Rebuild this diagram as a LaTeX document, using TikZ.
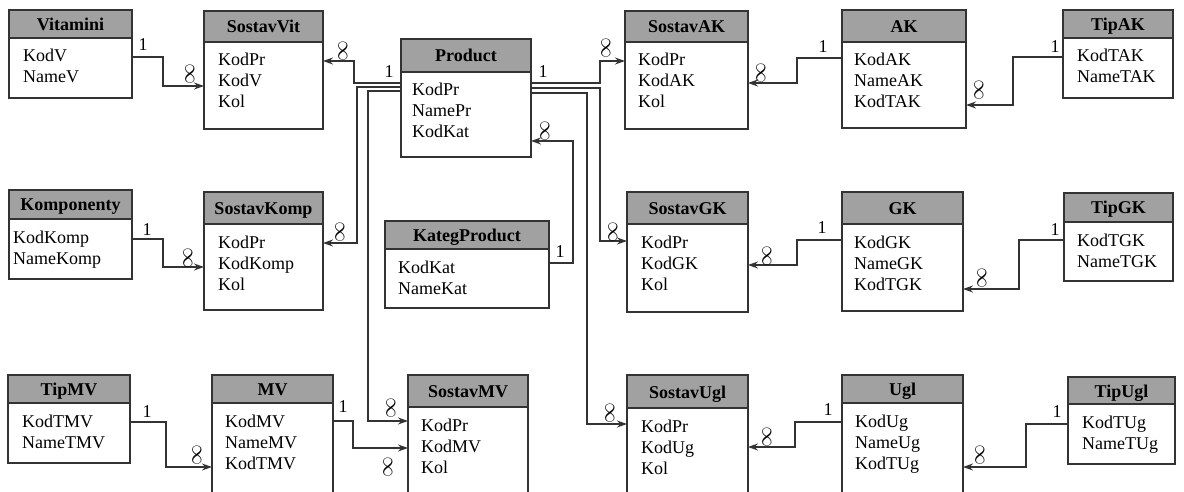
\documentclass[tikz,border=0pt]{standalone}
\usepackage{fontspec}
\setmainfont{Liberation Serif}
\usetikzlibrary{arrows.meta,fit,calc}
\tikzset{
 boxline/.style={draw=black!80, line width=1.4pt},
 hdr/.style={fill=black!37},
 conn/.style={draw=black!80, line width=1.3pt},
 arr/.style={conn, -{Stealth[length=10pt,width=7pt,inset=3.5pt]}},
 fieldtext/.style={anchor=base west, inner sep=0pt, font=\fontsize{18}{21}\selectfont},
 titletext/.style={anchor=base, inner sep=0pt, font=\fontsize{18}{21}\selectfont\bfseries},
 onelbl/.style={inner sep=0pt, font=\fontsize{18}{20}\selectfont},
 inflbl/.style={inner sep=0pt, rotate=90, scale=1.2, font=\fontsize{16}{16}\selectfont},
}
\newcommand\infsym{$\infty$}
% #1 id, #2 x1, #3 y1, #4 x2, #5 header bottom, #6 y2, #7 title, #8 pad, #9 fields
\newcommand\entity[9]{%
 \fill[hdr] (#2,#3) rectangle (#4,#5);
 \node[fit={(#2,#3) (#4,#6)}, inner sep=0pt, outer sep=0pt, boxline] (#1) {};
 \draw[boxline] (#2,#5) -- (#4,#5);
 \node[titletext] (#1-title) at ({(#2+#4)/2},{(#3+#5)/2+6.5}) {#7};
 \foreach \f [count=\i] in {#9} \node[fieldtext] (#1-\i) at ({#2+#8},{#5+24+(\i-1)*21}) {\f};
}
\begin{document}
\begin{tikzpicture}[x=1pt,y=-1pt]
\useasboundingbox (0,0) rectangle (1184,492);
\clip (0,0) rectangle (1184,492);
\fill[white] (0,0) rectangle (1184,492);

\entity{Vitamini}{9}{10}{132}{38}{98}{Vitamini}{14}{KodV,NameV}
\entity{SostavVit}{204}{11}{323}{42}{129}{SostavVit}{14}{KodPr,KodV,Kol}
\entity{Product}{401}{39}{531}{72}{157}{Product}{11}{KodPr,NamePr,KodKat}
\entity{SostavAK}{625}{11}{748}{42}{129}{SostavAK}{13}{KodPr,KodAK,Kol}
\entity{AK}{842}{10}{966}{42}{128}{AK}{12}{KodAK,NameAK,KodTAK}
\entity{TipAK}{1063}{10}{1173}{38}{98}{TipAK}{14}{KodTAK,NameTAK}
\entity{Komponenty}{9}{190}{132}{219}{279}{Komponenty}{4}{KodKomp,NameKomp}
\entity{SostavKomp}{204}{192}{323}{224}{310}{SostavKomp}{14}{KodPr,KodKomp,Kol}
\entity{KategProduct}{385}{221}{549}{249}{308}{KategProduct}{13}{KodKat,NameKat}
\entity{SostavGK}{627}{192}{748}{224}{312}{SostavGK}{14}{KodPr,KodGK,Kol}
\entity{GK}{842}{192}{963}{224}{311}{GK}{12}{KodGK,NameGK,KodTGK}
\entity{TipGK}{1064}{193}{1173}{222}{281}{TipGK}{13}{KodTGK,NameTGK}
\entity{TipMV}{8}{375}{130}{403}{463}{TipMV}{14}{KodTMV,NameTMV}
\entity{MV}{212}{375}{333}{403}{510}{MV}{13}{KodMV,NameMV,KodTMV}
\entity{SostavMV}{408}{375}{528}{407}{510}{SostavMV}{13}{KodPr,KodMV,Kol}
\entity{SostavUgl}{627}{375}{748}{408}{510}{SostavUgl}{14}{KodPr,KodUg,Kol}
\entity{Ugl}{842}{375}{963}{403}{510}{Ugl}{13}{KodUg,NameUg,KodTUg}
\entity{TipUgl}{1068}{377}{1175}{404}{464}{TipUgl}{14}{KodTUg,NameTUg}

% Vitamini -> SostavVit
\draw[arr] (Vitamini.east |- 0,57) -- (163,57) |- (SostavVit.west |- 0,86);
\node[onelbl] (o1) at (143,45) {1};
\node[inflbl] (i1) at (190,74) {\infsym};
% Product -> SostavVit
\draw[arr] (Product.west |- 0,83) -- (354,83) |- (SostavVit.east |- 0,61);
\node[onelbl] (o2) at (389,72) {1};
\node[inflbl] (i2) at (343,51) {\infsym};
% Product -> SostavKomp
\draw[arr] (Product.west |- 0,87) -- (357,87) |- (SostavKomp.east |- 0,243);
\node[inflbl] (i3) at (340,232) {\infsym};
% Product -> SostavMV
\draw[arr] (Product.west |- 0,91) -- (368,91) |- (SostavMV.west |- 0,421);
\node[inflbl] (i4) at (391,408) {\infsym};
% Product -> SostavAK
\draw[arr] (Product.east |- 0,83) -- (600,83) |- (SostavAK.west |- 0,61);
\node[onelbl] (o5) at (543,72) {1};
\node[inflbl] (i5) at (606,48) {\infsym};
% Product -> SostavGK
\draw[arr] (Product.east |- 0,88) -- (600,88) |- (SostavGK.west |- 0,241);
\node[inflbl] (i6) at (613,232) {\infsym};
% Product -> SostavUgl
\draw[arr] (Product.east |- 0,93) -- (587,93) |- (SostavUgl.west |- 0,424);
\node[inflbl] (i7) at (610,413) {\infsym};
% KategProduct -> Product
\draw[arr] (KategProduct.east |- 0,263) -- (573,263) |- (Product.east |- 0,141);
\node[onelbl] (o8) at (560,252) {1};
\node[inflbl] (i8) at (545,131) {\infsym};
% Komponenty -> SostavKomp
\draw[arr] (Komponenty.east |- 0,239) -- (163,239) |- (SostavKomp.west |- 0,267);
\node[onelbl] (o9) at (147,230) {1};
\node[inflbl] (i9) at (188,258) {\infsym};
% AK -> SostavAK
\draw[arr] (AK.west |- 0,58) -- (797,58) |- (SostavAK.east |- 0,83);
\node[onelbl] (o10) at (823,47) {1};
\node[inflbl] (i10) at (761,73) {\infsym};
% TipAK -> AK
\draw[arr] (TipAK.west |- 0,57) -- (1013,57) |- (AK.east |- 0,105);
\node[onelbl] (o11) at (1055,47) {1};
\node[inflbl] (i11) at (979,90) {\infsym};
% GK -> SostavGK
\draw[arr] (GK.west |- 0,240) -- (797,240) |- (SostavGK.east |- 0,265);
\node[onelbl] (o12) at (822,228) {1};
\node[inflbl] (i12) at (767,256) {\infsym};
% TipGK -> GK
\draw[arr] (TipGK.west |- 0,240) -- (1019,240) |- (GK.east |- 0,289);
\node[onelbl] (o13) at (1055,230) {1};
\node[inflbl] (i13) at (982,278) {\infsym};
% TipMV -> MV
\draw[arr] (TipMV.east |- 0,422) -- (166,422) |- (MV.west |- 0,467);
\node[onelbl] (o14) at (147,412) {1};
\node[inflbl] (i14) at (197,455) {\infsym};
% MV -> SostavMV
\draw[arr] (MV.east |- 0,421) -- (353,421) |- (SostavMV.west |- 0,448);
\node[onelbl] (o15) at (343,407) {1};
\node[inflbl] (i15) at (388,467) {\infsym};
% Ugl -> SostavUgl
\draw[arr] (Ugl.west |- 0,422) -- (795,422) |- (SostavUgl.east |- 0,447);
\node[onelbl] (o16) at (828,410) {1};
\node[inflbl] (i16) at (767,437) {\infsym};
% TipUgl -> Ugl
\draw[arr] (TipUgl.west |- 0,424) -- (1026,424) |- (Ugl.east |- 0,467);
\node[onelbl] (o17) at (1057,412) {1};
\node[inflbl] (i17) at (980,455) {\infsym};
\end{tikzpicture}
\end{document}
